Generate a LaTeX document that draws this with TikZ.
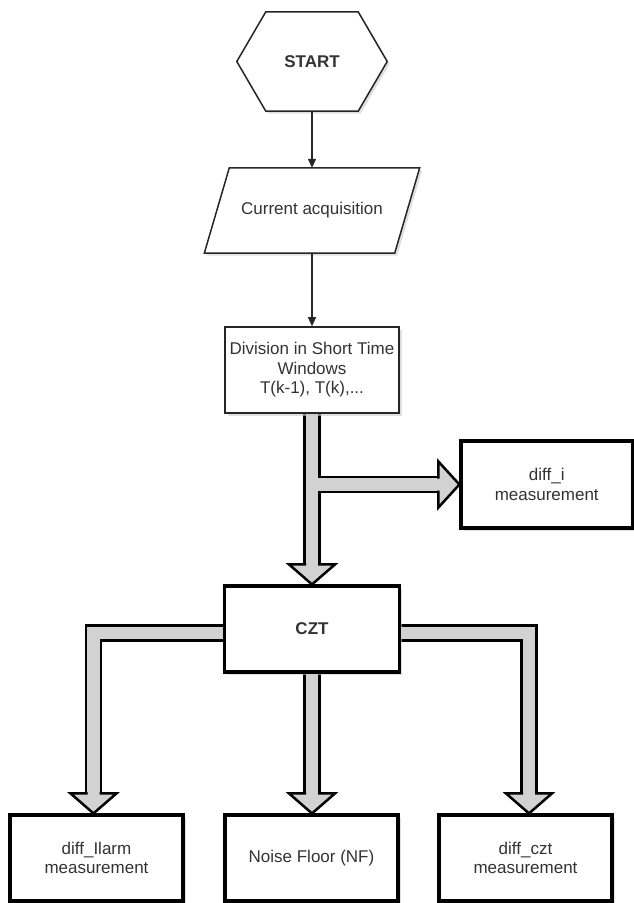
\documentclass[tikz,border=0pt]{standalone}
\usepackage{fontspec}
\setmainfont{Liberation Sans}
\usetikzlibrary{calc,arrows.meta,shadows,backgrounds}
\definecolor{txt}{HTML}{333333}
\definecolor{arrfill}{HTML}{D2D2D2}
\newcommand\downhead[1]{\filldraw[headst] ($(#1)+(-6,-20)$) -- ($(#1)+(-23,-20)$) -- (#1) -- ($(#1)+(23,-20)$) -- ($(#1)+(6,-20)$);}
\newcommand\righthead[1]{\filldraw[headst] ($(#1)+(-21,-6)$) -- ($(#1)+(-21,-23)$) -- (#1) -- ($(#1)+(-21,23)$) -- ($(#1)+(-21,6)$);}
\begin{document}
\begin{tikzpicture}[x=1pt,y=-1pt,
  every node/.style={font=\fontsize{17}{19.5}\selectfont, text=txt, align=center, inner sep=0pt},
  shd/.style={drop shadow={shadow xshift=2.5pt, shadow yshift=-2.5pt, fill=black!20, opacity=0.6}},
  outl/.style={draw=black!85, line width=1.5pt, line join=miter},
  thinbox/.style={draw=black!85, line width=1.6pt, fill=white, shd, minimum width=174pt, minimum height=86pt},
  thickbox/.style={draw=black, line width=3.2pt, fill=white, shd, minimum width=175pt, minimum height=86pt},
  thinarrow/.style={draw=black!85, line width=1.3pt, -{Triangle[length=9pt,width=8pt]}},
  shaft/.style={draw=black, line width=2.5pt, double=arrfill, double distance=12.5pt, line join=miter},
  headst/.style={fill=arrfill, draw=black, line width=2.5pt, line join=miter}]
\useasboundingbox (0,0) rectangle (633,903);

% nodes
\node[minimum width=150pt, minimum height=99pt] (start) at (312,61.5) {\bfseries START};
\node[minimum width=215pt, minimum height=85pt] (acq) at (312,210.5) {Current acquisition};
\node[thinbox] (div) at (312,370) {Division in Short Time\\Windows\\T(k-1), T(k),...};
\node[thickbox, minimum width=171.5pt, minimum height=87pt] (diffi) at (546.75,484.5) {diff\_i\\measurement};
\node[thickbox] (czt) at (312,629) {\bfseries CZT};
\node[thickbox, minimum width=173pt] (lm) at (96.5,858) {diff\_Ilarm\\measurement};
\node[thickbox, minimum width=173pt] (nf) at (311.5,858) {Noise Floor (NF)};
\node[thickbox, minimum width=173pt] (dc) at (525.5,858) {diff\_czt\\measurement};

\coordinate (j) at (312,484.5);
\coordinate (bL) at (93.5,633);
\coordinate (bR) at (529,633);
\coordinate (tL) at (bL |- lm.north);
\coordinate (tR) at (bR |- dc.north);
\coordinate (tM) at (czt.south |- nf.north);

\begin{scope}[on background layer]
  % hexagon
  \draw[outl, fill=white, shd] (start.west) -- ([xshift=29pt]start.north west) -- ([xshift=-29pt]start.north east)
     -- (start.east) -- ([xshift=-29pt]start.south east) -- ([xshift=29pt]start.south west) -- cycle;
  % parallelogram
  \draw[outl, fill=white, shd] (acq.south west) -- ([xshift=25pt]acq.north west) -- (acq.north east)
     -- ([xshift=-25pt]acq.south east) -- cycle;
  % thin arrows
  \draw[thinarrow] (start.south) -- (start.south |- acq.north);
  \draw[thinarrow] (acq.south) -- (div.north);
  % hollow arrows
  \draw[shaft] (div.south) -- ($(czt.north)+(0,-19)$);
  \draw[shaft] ($(j)+(6.25,0)$) -- ($(diffi.west)+(-20,0)$);
  \draw[shaft] (czt.west |- bL) -- (bL) -- ($(tL)+(0,-19)$);
  \draw[shaft] (czt.east |- bR) -- (bR) -- ($(tR)+(0,-19)$);
  \draw[shaft] (czt.south) -- ($(tM)+(0,-19)$);
  \downhead{czt.north}
  \righthead{diffi.west}
  \downhead{tL}
  \downhead{tM}
  \downhead{tR}
\end{scope}
\end{tikzpicture}
\end{document}
